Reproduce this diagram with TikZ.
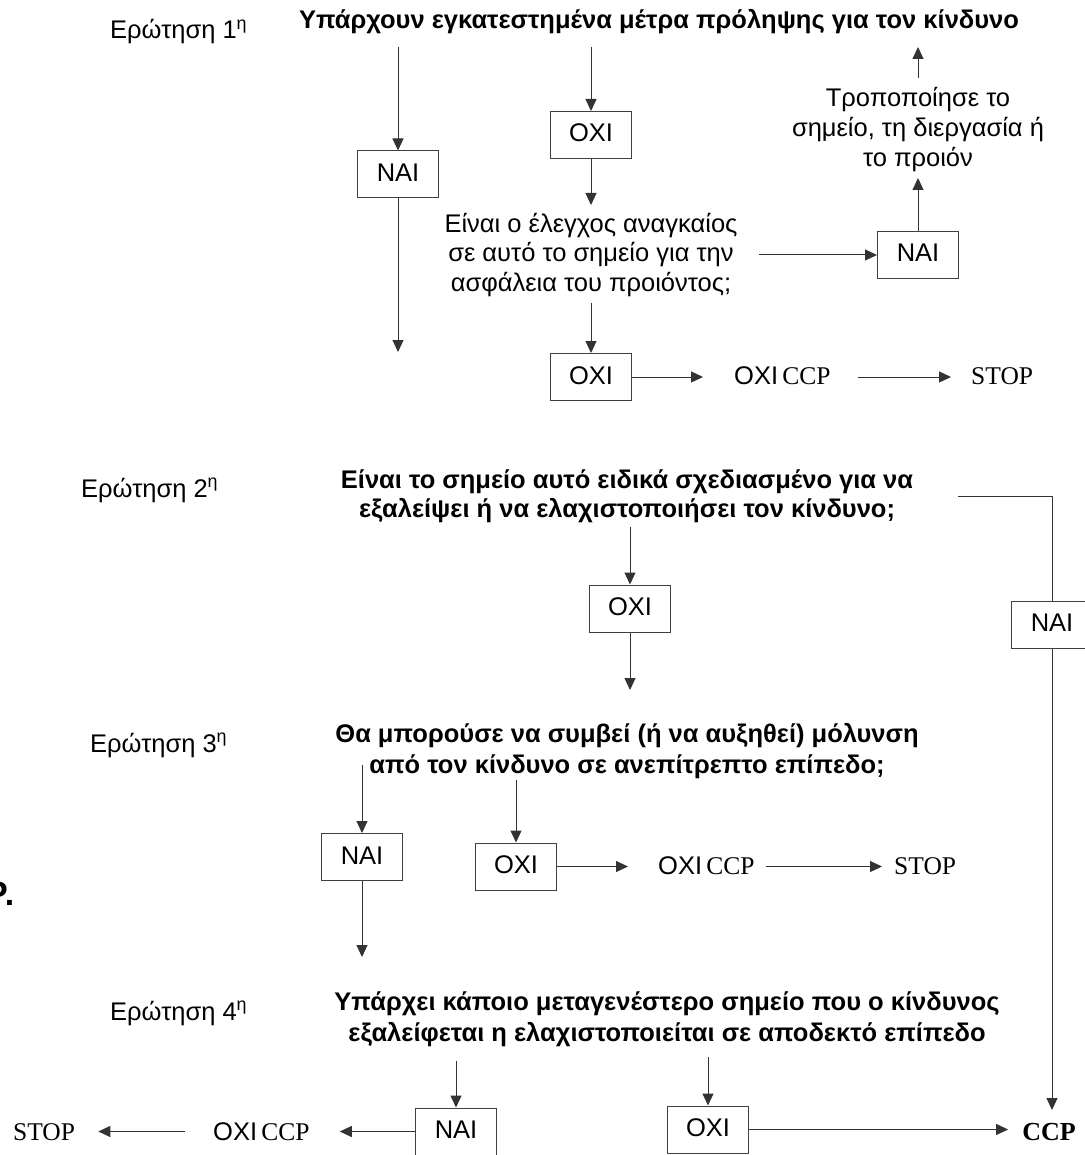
\documentclass[tikz,border=0pt]{standalone}
\usepackage{fontspec}
\setmainfont{Liberation Sans}
\newfontfamily\tms{Liberation Serif}
\usetikzlibrary{arrows.meta}
\begin{document}
\begin{tikzpicture}[x=1pt,y=-1pt,
  every node/.style={inner sep=0pt, font=\fontsize{25.5}{30}\selectfont},
  lbl/.style={anchor=base west},
  ttl/.style={anchor=base, font=\fontsize{25.5}{30}\selectfont\bfseries},
  txt/.style={anchor=base},
  serif/.style={anchor=base west, font=\fontsize{25.5}{30}\selectfont\tms},
  box/.style={draw=black!75, line width=1pt, minimum width=81pt, minimum height=47pt, text height=18pt, text depth=4pt},
  con/.style={draw=black!80, line width=1pt},
  arr/.style={con, -{Triangle[width=11pt,length=12pt]}},
]
\useasboundingbox (0,0) rectangle (1084,1155);

% ---------- Question 1 ----------
\node[lbl] (q1) at (110,39) {Ερώτηση 1\textsuperscript{η}};
\node[ttl] (t1) at (659,29) {Υπάρχουν εγκατεστημένα μέτρα πρόληψης για τον κίνδυνο};

\coordinate (n1in) at (398,47);
\node[box] (n1) at (398,174.5) {ΝΑΙ};
\coordinate (n1out) at (398,352);
\draw[arr] (n1in) -- (n1);
\draw[arr] (n1) -- (n1out);

\coordinate (o1in) at (591,47);
\node[box] (o1) at (591,135) {ΟΧΙ};
\coordinate (q1bin) at (591,205);
\draw[arr] (o1in) -- (o1);
\draw[arr] (o1) -- (q1bin);

\node[txt] (q1b1) at (591,233) {Είναι ο έλεγχος αναγκαίος};
\node[txt] (q1b2) at (591,262) {σε αυτό το σημείο για την};
\node[txt] (q1b3) at (591,291) {ασφάλεια του προιόντος;};

\coordinate (o2in) at (591,303);
\node[box] (o2) at (591,377) {ΟΧΙ};
\draw[arr] (o2in) -- (o2);

\node[lbl] (c1) at (734,384) {ΟΧΙ\,{\tms CCP}};
\node[serif] (s1) at (971,384) {STOP};
\draw[arr, shorten >=31] (o2.east) -- (o2.east -| c1.west);
\draw[arr, shorten <=27, shorten >=20] (c1.east |- o2) -- (s1.west |- o2);

\node[txt] (r1) at (918,107) {Τροποποίησε το};
\node[txt] (r2) at (918,137) {σημείο, τη διεργασία ή};
\node[txt] (r3) at (918,167) {το προιόν};
\coordinate (rupa) at (918,78);
\coordinate (rupb) at (918,47);
\draw[arr] (rupa) -- (rupb);

\node[box] (n2) at (918,255) {ΝΑΙ};
\coordinate (n2up) at (918,178);
\coordinate (n2src) at (759,255);
\draw[arr] (n2) -- (n2up);
\draw[arr] (n2src) -- (n2);

% ---------- Question 2 ----------
\node[lbl] (q2) at (81,497) {Ερώτηση 2\textsuperscript{η}};
\node[ttl] (t2a) at (627,488) {Είναι το σημείο αυτό ειδικά σχεδιασμένο για να};
\node[ttl] (t2b) at (627,517) {εξαλείψει ή να ελαχιστοποιήσει τον κίνδυνο;};

\coordinate (o3in) at (630,527);
\node[box] (o3) at (630,608.5) {ΟΧΙ};
\coordinate (o3out) at (630,690);
\draw[arr] (o3in) -- (o3);
\draw[arr] (o3) -- (o3out);

\coordinate (rt) at (958,496);
\node[box] (n3) at (1052,624.5) {ΝΑΙ};
\draw[con] (rt) -| (n3);
\node[anchor=base, font=\fontsize{26}{30}\selectfont\tms\bfseries] (ccp) at (1049,1140) {CCP};
\coordinate (ccpin) at (1052,1110);
\draw[arr] (n3) -- (ccpin);

% ---------- Question 3 ----------
\node[lbl] (q3) at (90,752) {Ερώτηση 3\textsuperscript{η}};
\node[ttl] (t3a) at (627,742) {Θα μπορούσε να συμβεί (ή να αυξηθεί) μόλυνση};
\node[ttl] (t3b) at (627,773) {από τον κίνδυνο σε ανεπίτρεπτο επίπεδο;};

\coordinate (n4in) at (362,765);
\node[box] (n4) at (362,857) {ΝΑΙ};
\coordinate (n4out) at (362,957);
\draw[arr] (n4in) -- (n4);
\draw[arr] (n4) -- (n4out);

\coordinate (o4in) at (516,780);
\node[box] (o4) at (516,866.5) {ΟΧΙ};
\draw[arr] (o4in) -- (o4);

\node[lbl] (c2) at (658,874) {ΟΧΙ\,{\tms CCP}};
\node[serif] (s2) at (894,874) {STOP};
\draw[arr, shorten >=30] (o4.east) -- (o4.east -| c2.west);
\draw[arr, shorten <=11, shorten >=12] (c2.east |- o4) -- (s2.west |- o4);

\node[anchor=base west, font=\fontsize{34}{40}\selectfont\bfseries] (frag) at (-15,905) {P\kern-3pt.};

% ---------- Question 4 ----------
\node[lbl] (q4) at (110,1020) {Ερώτηση 4\textsuperscript{η}};
\node[ttl] (t4a) at (667,1010) {Υπάρχει κάποιο μεταγενέστερο σημείο που ο κίνδυνος};
\node[ttl] (t4b) at (667,1041) {εξαλείφεται η ελαχιστοποιείται σε αποδεκτό επίπεδο};

\coordinate (n5in) at (456,1061);
\node[box] (n5) at (456,1131.5) {ΝΑΙ};
\draw[arr] (n5in) -- (n5);
\node[lbl] (c3) at (213,1140) {ΟΧΙ\,{\tms CCP}};
\node[serif] (s3) at (13,1140) {STOP};
\draw[arr, shorten >=30] (n5.west) -- (n5.west -| c3.east);
\draw[arr, shorten <=28, shorten >=23] (c3.west |- n5) -- (s3.east |- n5);

\coordinate (o6in) at (708,1057);
\node[box] (o6) at (708,1129.5) {ΟΧΙ};
\draw[arr] (o6in) -- (o6);
\draw[arr, shorten >=14] (o6.east) -- (o6.east -| ccp.west);
\end{tikzpicture}
\end{document}
